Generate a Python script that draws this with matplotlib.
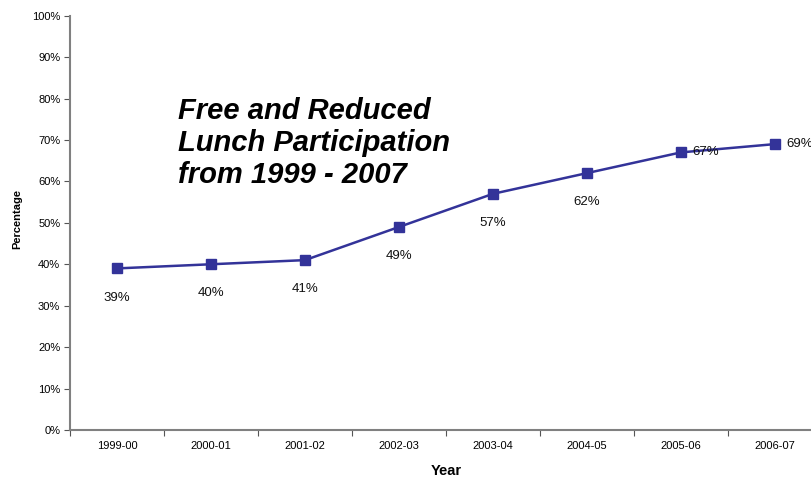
import matplotlib.pyplot as plt
from matplotlib.ticker import FixedLocator, FuncFormatter
import numpy as np

plt.rcParams['font.family'] = ['Liberation Sans', 'DejaVu Sans']

years = ['1999-00', '2000-01', '2001-02', '2002-03', '2003-04', '2004-05', '2005-06', '2006-07']
pct = [39, 40, 41, 49, 57, 62, 67, 69]
# where each value label sits: below the point or to its right
label_side = ['below', 'below', 'below', 'below', 'below', 'below', 'right', 'right']

fig = plt.figure(figsize=(8.12, 4.79), dpi=100)
ax = fig.add_axes([0.0862, 0.1023, 0.926, 0.865])

x = np.arange(len(years))
ax.plot(x, pct, color='#333399', linewidth=1.8, marker='s', markersize=7.5,
        markerfacecolor='#333399', markeredgecolor='#333399')

for xi, v, side in zip(x, pct, label_side):
    if side == 'below':
        ax.annotate(f'{v}%', (xi, v), xytext=(0, -21), textcoords='offset points',
                    ha='center', va='center', fontsize=9.5, color='#111111')
    else:
        ax.annotate(f'{v}%', (xi, v), xytext=(8, 0), textcoords='offset points',
                    ha='left', va='center', fontsize=9.5, color='#111111')

ax.set_xlim(-0.5, len(years) - 0.5)
ax.set_ylim(0, 100)
ax.set_yticks(range(0, 101, 10))
ax.yaxis.set_major_formatter(FuncFormatter(lambda v, p: f'{int(v)}%'))

ax.xaxis.set_major_locator(FixedLocator(np.arange(-0.5, len(years), 1.0)))
ax.xaxis.set_major_formatter(FuncFormatter(lambda v, p: ''))
ax.xaxis.set_minor_locator(FixedLocator(x))
ax.set_xticklabels(years, minor=True)
ax.tick_params(axis='x', which='major', length=4, color='#555555', direction='out')
ax.tick_params(axis='x', which='minor', length=0, labelsize=8, pad=8)
ax.tick_params(axis='y', length=4, color='#555555', labelsize=8, pad=3)

for s in ['top', 'right']:
    ax.spines[s].set_visible(False)
for s in ['left', 'bottom']:
    ax.spines[s].set_color('#808080')
    ax.spines[s].set_linewidth(1.5)

ax.set_ylabel('Percentage', fontsize=8, fontweight='bold')
ax.yaxis.set_label_coords(-0.064, 0.51)
ax.set_xlabel('Year', fontsize=10.5, fontweight='bold', labelpad=9)

ax.text(0.65, 69.3, 'Free and Reduced\nLunch Participation\nfrom 1999 - 2007',
        fontsize=21, fontweight='bold', fontstyle='italic', ha='left', va='center',
        linespacing=1.18)

plt.savefig('out.png', dpi=100)
